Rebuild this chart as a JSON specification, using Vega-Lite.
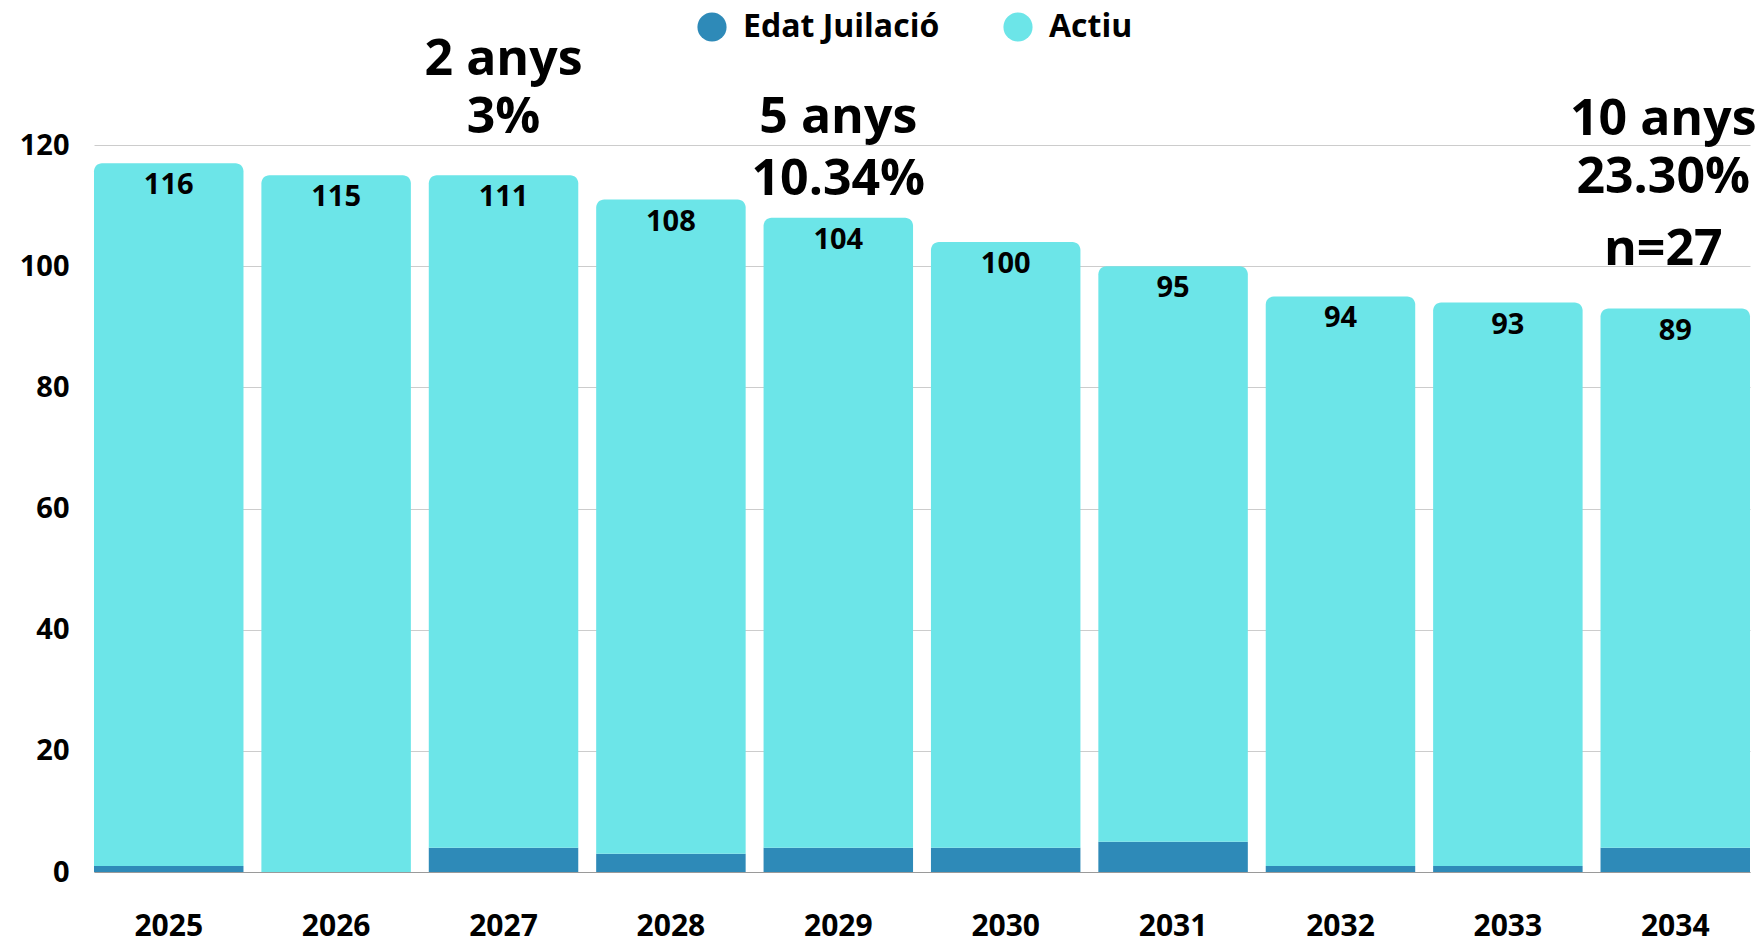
{
  "$schema": "https://vega.github.io/schema/vega-lite/v6.json",
  "width": 1656,
  "height": 727,
  "autosize": {"type": "none"},
  "padding": {"left": 94, "top": 145, "right": 12, "bottom": 72},
  "background": "white",
  "config": {
    "font": "Open Sans",
    "view": {"stroke": null}
  },
  "datasets": {
    "bars": [
      {"year": "2025", "serie": "Edat Juilació", "value": 1},
      {"year": "2025", "serie": "Actiu", "value": 116},
      {"year": "2026", "serie": "Edat Juilació", "value": 0},
      {"year": "2026", "serie": "Actiu", "value": 115},
      {"year": "2027", "serie": "Edat Juilació", "value": 4},
      {"year": "2027", "serie": "Actiu", "value": 111},
      {"year": "2028", "serie": "Edat Juilació", "value": 3},
      {"year": "2028", "serie": "Actiu", "value": 108},
      {"year": "2029", "serie": "Edat Juilació", "value": 4},
      {"year": "2029", "serie": "Actiu", "value": 104},
      {"year": "2030", "serie": "Edat Juilació", "value": 4},
      {"year": "2030", "serie": "Actiu", "value": 100},
      {"year": "2031", "serie": "Edat Juilació", "value": 5},
      {"year": "2031", "serie": "Actiu", "value": 95},
      {"year": "2032", "serie": "Edat Juilació", "value": 1},
      {"year": "2032", "serie": "Actiu", "value": 94},
      {"year": "2033", "serie": "Edat Juilació", "value": 1},
      {"year": "2033", "serie": "Actiu", "value": 93},
      {"year": "2034", "serie": "Edat Juilació", "value": 4},
      {"year": "2034", "serie": "Actiu", "value": 89}
    ],
    "notes": [
      {"year": "2027", "text": "2 anys", "at": 134.0},
      {"year": "2027", "text": "3%", "at": 124.5},
      {"year": "2029", "text": "5 anys", "at": 124.4},
      {"year": "2029", "text": "10.34%", "at": 114.3},
      {"year": "2034", "text": "10 anys", "at": 124.2},
      {"year": "2034", "text": "23.30%", "at": 114.5},
      {"year": "2034", "text": "n=27", "at": 102.7}
    ]
  },
  "layer": [
    {
      "data": {"name": "bars"},
      "transform": [
        {"stack": "value", "groupby": ["year"], "sort": [{"field": "serie", "order": "descending"}], "as": ["v0", "v1"]},
        {"filter": "datum.serie === 'Edat Juilació'"}
      ],
      "mark": {"type": "bar"},
      "encoding": {
        "x": {
          "field": "year", "type": "ordinal",
          "scale": {"paddingInner": 0.107, "paddingOuter": 0},
          "axis": {
            "title": null, "labelAngle": 0, "ticks": false,
            "domain": true, "domainColor": "#9a9a9a", "domainWidth": 1,
            "labelFontSize": 30, "labelFontWeight": "bold", "labelColor": "#000000",
            "labelPadding": 39, "labelBaseline": "top"
          }
        },
        "y": {
          "field": "v1", "type": "quantitative",
          "scale": {"domain": [0, 120], "nice": false},
          "axis": {
            "title": null, "values": [0, 20, 40, 60, 80, 100, 120],
            "ticks": false, "domain": false,
            "gridColor": "#cccccc", "gridWidth": 1,
            "labelFontSize": 29, "labelFontWeight": "bold", "labelColor": "#000000",
            "labelPadding": 25
          }
        },
        "y2": {"field": "v0"},
        "color": {
          "field": "serie", "type": "nominal",
          "scale": {"domain": ["Edat Juilació", "Actiu"], "range": ["#2E8AB8", "#6CE5E8"]},
          "legend": {
            "title": null, "orient": "none", "direction": "horizontal",
            "legendX": 602, "legendY": -134,
            "symbolType": "circle", "symbolSize": 850, "symbolStrokeWidth": 0,
            "labelFontSize": 32, "labelFontWeight": "bold", "labelColor": "#000000",
            "labelLimit": 0,
            "labelOffset": 15, "columnPadding": 62
          }
        }
      }
    },
    {
      "data": {"name": "bars"},
      "transform": [
        {"stack": "value", "groupby": ["year"], "sort": [{"field": "serie", "order": "descending"}], "as": ["v0", "v1"]},
        {"filter": "datum.serie === 'Actiu'"}
      ],
      "mark": {"type": "bar", "cornerRadiusTopLeft": 8, "cornerRadiusTopRight": 8},
      "encoding": {
        "x": {"field": "year", "type": "ordinal"},
        "y": {"field": "v1", "type": "quantitative"},
        "y2": {"field": "v0"},
        "color": {"field": "serie", "type": "nominal"}
      }
    },
    {
      "data": {"name": "bars"},
      "transform": [
        {"stack": "value", "groupby": ["year"], "sort": [{"field": "serie", "order": "descending"}], "as": ["v0", "v1"]},
        {"filter": "datum.serie === 'Actiu'"}
      ],
      "mark": {"type": "text", "dy": 22, "baseline": "middle", "align": "center", "fontSize": 29, "fontWeight": "bold", "color": "#000000"},
      "encoding": {
        "x": {"field": "year", "type": "ordinal"},
        "y": {"field": "v1", "type": "quantitative"},
        "text": {"field": "value", "type": "quantitative"}
      }
    },
    {
      "data": {"name": "notes"},
      "transform": [{"filter": "datum.year !== '2034'"}],
      "mark": {"type": "text", "baseline": "middle", "align": "center", "fontSize": 50, "fontWeight": "bold", "color": "#000000"},
      "encoding": {
        "x": {"field": "year", "type": "ordinal"},
        "y": {"field": "at", "type": "quantitative"},
        "text": {"field": "text", "type": "nominal"}
      }
    },
    {
      "data": {"name": "notes"},
      "transform": [{"filter": "datum.year === '2034'"}],
      "mark": {"type": "text", "baseline": "middle", "align": "center", "dx": -12, "fontSize": 50, "fontWeight": "bold", "color": "#000000"},
      "encoding": {
        "x": {"field": "year", "type": "ordinal"},
        "y": {"field": "at", "type": "quantitative"},
        "text": {"field": "text", "type": "nominal"}
      }
    }
  ]
}
